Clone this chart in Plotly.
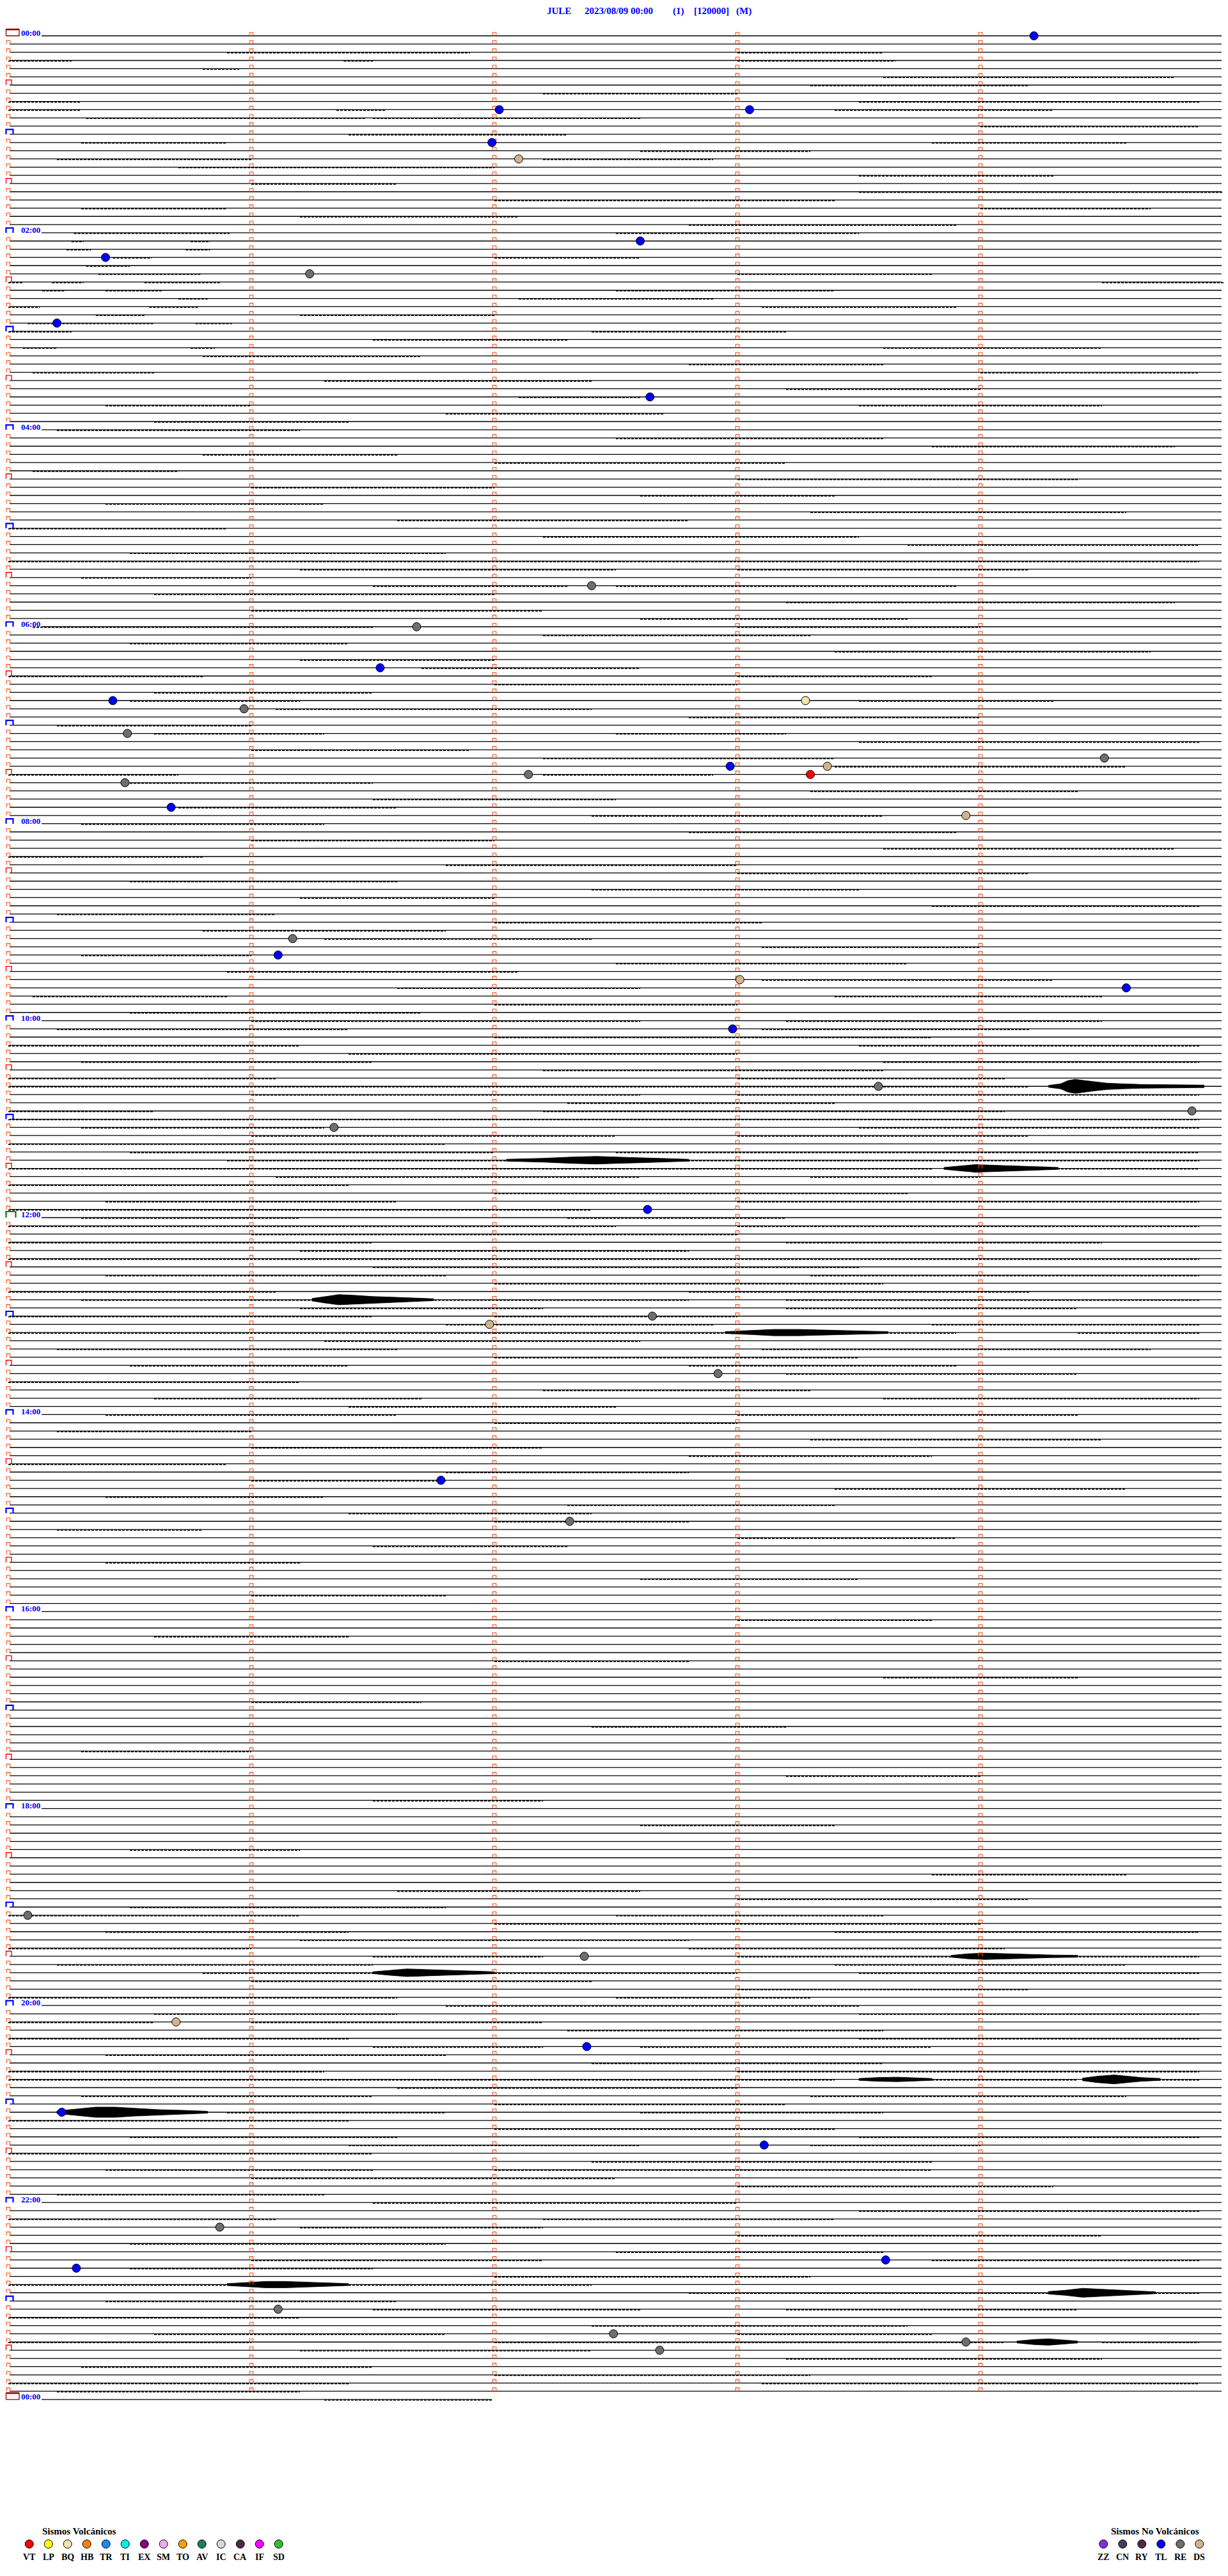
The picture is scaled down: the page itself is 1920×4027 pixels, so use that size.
import plotly.graph_objects as go

# ---------------- data ----------------
title_parts = ["JULE", "2023/08/09 00:00", "(1)", "[120000]", "(M)"]
hour_labels = ["00:00", "02:00", "04:00", "06:00", "08:00", "10:00", "12:00",
               "14:00", "16:00", "18:00", "20:00", "22:00", "00:00"]
n_traces = 288          # 5-minute traces in 24 h
minutes_per_trace = 5

event_trace = [0, 9, 9, 13, 15, 25, 27, 29, 35, 44, 67, 72, 77, 81, 81, 82, 85, 89, 89, 88,
               90, 90, 91, 94, 95, 110, 112, 115, 116, 121, 128, 131, 133, 143, 157, 156,
               163, 176, 181, 229, 234, 242, 245, 253, 257, 267, 271, 272, 277, 280, 282, 281]
event_minute = [4.22, 2.02, 3.05, 1.99, 2.10, 2.60, 0.40, 1.24, 0.20, 2.64, 2.40, 1.68, 1.53,
                0.43, 3.28, 0.97, 0.49, 2.97, 3.37, 4.51, 2.14, 3.30, 0.48, 0.67, 3.94, 1.17,
                1.11, 3.01, 4.60, 2.98, 3.58, 4.87, 1.34, 2.63, 1.98, 2.65, 2.92, 1.78, 2.31,
                0.08, 2.37, 0.69, 2.38, 0.22, 3.11, 0.87, 3.61, 0.28, 1.11, 2.49, 2.68, 3.94]
event_type = ["TL", "TL", "TL", "TL", "DS", "TL", "TL", "RE", "TL", "TL", "RE", "RE", "TL",
              "TL", "BQ", "RE", "RE", "TL", "DS", "RE", "RE", "VT", "RE", "TL", "DS", "RE",
              "TL", "DS", "TL", "TL", "RE", "RE", "RE", "TL", "DS", "RE", "RE", "TL", "RE",
              "RE", "RE", "DS", "TL", "TL", "TL", "RE", "TL", "TL", "RE", "RE", "RE", "RE"]

volc_types = ["VT", "LP", "BQ", "HB", "TR", "TI", "EX", "SM", "TO", "AV", "IC", "CA", "IF", "SD"]
volc_colors = ["#ff0000", "#ffff00", "#f0e4a8", "#ff8010", "#1e88f0", "#00f0f0", "#800080",
               "#eeaaee", "#ffa000", "#207a60", "#d8d8d8", "#4a2a48", "#ff00ff", "#30c030"]
nonvolc_types = ["ZZ", "CN", "RY", "TL", "RE", "DS"]
nonvolc_colors = ["#8030d8", "#4c3a58", "#502848", "#0000ff", "#6e6e6e", "#d2b48c"]

# noisy stretches of each trace: (trace, start minute, end minute)
noise_segments = [
    (2,0.9,1.9),(2,3.0,3.6),(3,0.0,0.26),(3,1.38,1.5),(3,3.0,3.65),(4,0.8,0.95),(5,3.6,4.8),
    (6,3.3,4.2),(7,2.2,3.0),(8,0.0,0.3),(8,3.5,4.9),(9,0.0,0.3),(9,1.35,1.55),(9,3.4,4.3),
    (10,0.32,1.47),(10,1.5,2.6),(11,4.0,4.9),(12,1.4,2.3),(13,0.3,0.9),(13,3.8,4.6),(14,2.6,3.3),
    (15,0.2,1.0),(15,2.2,2.9),(16,0.7,2.0),(17,3.5,4.3),(18,1.0,1.6),(19,3.5,5.0),(20,2.0,3.4),
    (21,0.3,0.9),(21,4.0,4.7),(22,1.2,2.1),(23,2.8,3.9),
    (24,0.27,0.91),(24,2.5,3.5),(25,0.26,0.31),(25,0.75,0.83),(26,0.24,0.34),(26,0.73,0.83),
    (27,0.43,0.59),(27,2.0,2.6),(28,0.32,0.5),(29,0.37,0.79),(29,3.0,3.8),(30,0.0,0.06),
    (30,0.18,0.31),(30,0.56,0.87),(30,4.5,5.0),(31,0.14,0.23),(31,0.4,0.63),(31,2.5,3.4),
    (32,0.7,0.82),(32,2.1,2.9),(33,0.0,0.13),(33,0.58,0.78),(33,3.1,3.9),(34,0.36,0.56),
    (34,1.2,2.0),(35,0.08,0.6),(35,0.77,0.92),(36,0.0,0.26),(36,2.4,3.2),(37,1.5,2.3),
    (38,0.06,0.2),(38,0.75,0.85),(38,3.6,4.5),(39,0.8,1.7),(40,2.8,3.6),(41,0.1,0.6),
    (41,4.0,4.9),(42,1.3,2.4),(43,3.2,4.0),(44,2.1,2.6),(45,0.4,1.0),(45,3.5,4.5),(46,1.8,2.7),
    (47,0.6,1.4),
    (48,0.2,1.2),(49,2.5,3.6),(50,3.8,4.8),(51,0.8,1.6),(52,2.0,3.2),(53,0.1,0.7),(54,3.0,4.4),
    (55,1.0,2.0),(56,2.6,3.4),(57,0.4,1.3),(58,3.3,4.6),(59,1.6,2.8),(60,0.0,0.9),(61,2.2,3.5),
    (62,3.7,4.9),(63,0.5,1.8),(64,0.0,4.9),(65,1.2,2.5),(65,3.0,4.2),(66,0.3,1.0),(67,1.5,2.3),
    (67,2.5,3.9),(68,0.6,2.0),(69,3.2,4.8),(70,1.0,2.2),(71,2.6,3.7),
    (72,0.1,1.5),(72,3.0,4.0),(73,2.2,3.3),(74,0.5,1.4),(75,3.4,4.7),(76,1.2,2.0),(77,1.7,2.6),
    (78,0.0,0.8),(78,3.0,3.8),(79,2.0,3.0),(80,0.6,1.5),(81,0.5,1.2),(81,3.5,4.3),(82,1.1,2.4),
    (83,2.8,4.0),(84,0.2,1.0),(85,0.6,1.3),(85,2.5,3.2),(86,3.5,4.9),(87,1.0,1.9),(88,2.2,3.4),
    (89,3.4,4.6),(90,0.0,0.7),(90,2.2,2.9),(91,0.5,1.5),(92,3.3,4.4),(93,1.5,2.5),(94,0.7,1.6),
    (95,2.4,3.6),
    (96,0.3,1.3),(97,2.8,3.9),(98,1.0,2.0),(99,3.6,4.8),(100,0.0,0.8),(101,1.8,3.0),(102,3.0,4.2),
    (103,0.5,1.6),(104,2.4,3.5),(105,1.2,2.0),(106,3.8,4.9),(107,0.2,1.1),(108,2.0,3.1),
    (109,0.8,1.8),(110,1.3,2.4),(111,3.1,4.0),(112,0.3,1.0),(113,2.5,3.7),(114,0.9,2.1),
    (115,3.1,4.3),(116,1.6,2.6),(117,0.1,0.9),(117,3.4,4.5),(118,2.0,3.0),(119,0.5,1.7),
    (120,1.0,2.6),(120,3.2,4.5),(121,0.2,1.4),(121,3.1,4.2),(122,2.0,3.8),(123,0.0,1.2),
    (123,3.5,4.9),(124,1.4,3.0),(125,0.3,1.5),(125,3.6,4.9),(126,2.2,3.6),(127,0.0,1.1),
    (127,3.0,4.1),(128,0.0,4.2),(129,1.0,2.6),(129,3.0,4.9),(130,2.3,3.4),(131,0.0,0.6),
    (131,2.2,4.1),(132,0.0,4.9),(133,0.3,1.3),(133,3.5,4.9),(134,1.0,2.5),(134,3.0,4.2),
    (135,0.0,1.8),(136,0.5,2.0),(136,2.5,4.9),(137,0.9,4.9),(138,0.0,3.8),(138,4.3,4.9),
    (139,1.1,2.6),(139,3.3,4.0),(140,0.0,1.4),(141,2.0,3.7),(142,0.4,1.6),(142,3.0,4.9),
    (143,0.0,2.4),
    (144,0.3,1.2),(144,2.3,3.2),(145,0.0,2.5),(145,3.0,4.9),(146,1.0,3.0),(147,0.0,1.5),
    (147,3.2,4.5),(148,1.2,2.8),(149,0.0,4.9),(150,1.5,3.5),(151,0.4,1.8),(151,3.3,4.9),
    (152,2.0,3.6),(153,0.0,1.1),(153,2.8,4.2),(154,0.3,2.8),(154,3.2,4.9),(155,1.2,2.2),
    (155,3.2,4.4),(156,0.0,1.5),(156,2.0,3.0),(157,1.8,2.9),(157,3.8,4.9),(158,0.0,2.0),
    (158,2.0,3.9),(158,4.4,4.9),(159,1.3,2.6),(160,0.2,1.6),(160,3.1,4.7),(161,2.0,3.5),
    (162,0.5,1.4),(162,2.8,3.9),(163,3.2,4.4),(164,0.0,1.2),(165,2.2,3.3),(166,0.6,1.7),
    (166,3.6,4.9),(167,1.4,2.5),
    (168,0.4,1.6),(168,3.0,4.4),(169,2.0,3.0),(170,0.2,1.0),(171,3.3,4.5),(172,1.0,2.2),
    (173,2.8,3.8),(174,0.0,0.9),(175,1.8,2.8),(176,1.0,1.8),(177,3.4,4.6),(178,0.4,1.3),
    (179,2.3,3.4),(180,1.4,2.4),(181,2.0,2.8),(182,0.2,0.8),(183,3.0,3.9),(184,1.5,2.3),
    (186,0.4,1.2),(188,2.6,3.5),(190,1.0,1.8),
    (193,3.0,3.8),(195,0.6,1.4),(198,2.0,2.8),(200,3.6,4.4),(203,1.0,1.7),(206,2.4,3.2),
    (209,0.3,1.0),(212,3.2,4.0),(215,1.5,2.2),(218,2.6,3.4),(221,0.5,1.2),(224,3.8,4.6),
    (226,1.6,2.6),(227,3.0,4.2),
    (228,0.5,1.8),(229,0.0,1.2),(229,2.5,3.6),(230,2.0,4.0),(231,0.4,1.4),(231,3.4,4.9),
    (232,1.2,2.8),(233,0.0,1.0),(233,2.8,4.1),(234,1.5,2.2),(234,3.0,4.9),(235,0.2,1.5),
    (235,3.4,4.6),(236,0.8,3.0),(236,3.5,4.9),(237,1.0,2.4),(238,3.0,4.2),(239,0.0,1.6),
    (239,2.5,3.3),(240,1.8,3.5),(241,0.6,1.6),(241,3.5,4.9),(242,0.0,0.6),(242,1.0,2.2),
    (243,2.3,3.6),(244,0.0,1.4),(244,3.5,4.9),(245,1.5,2.2),(245,2.6,3.8),(246,0.4,1.8),
    (247,2.4,3.6),(248,0.0,1.3),(248,3.0,4.9),(249,0.0,3.4),(249,3.8,4.4),(249,4.7,4.9),
    (250,1.6,3.0),(251,0.3,1.5),(251,3.3,4.6),(252,2.0,3.2),(253,0.9,1.8),(253,2.6,3.6),
    (254,0.0,1.4),(255,2.0,3.4),(256,0.5,1.6),(256,3.5,4.9),(257,1.4,2.6),(257,3.3,4.0),
    (258,0.0,1.5),(259,2.4,3.8),(260,0.4,1.5),(260,2.0,3.8),(261,1.0,2.5),(262,3.0,4.3),
    (263,0.2,1.3),(264,1.5,3.0),(265,3.5,4.9),(266,0.0,1.1),(266,2.2,3.4),(267,1.2,2.2),
    (268,3.0,4.5),(269,0.5,1.8),(270,2.5,3.6),(271,1.0,2.2),(271,3.8,4.9),(272,0.5,1.5),
    (273,2.0,3.3),(274,0.0,0.9),(274,1.4,2.4),(275,2.8,4.3),(275,4.7,4.9),(276,0.4,1.6),
    (277,1.5,2.6),(277,3.2,4.4),(278,0.0,1.2),(279,2.4,3.7),(280,0.6,1.8),(280,3.0,3.8),
    (281,0.0,1.0),(281,2.0,4.1),(281,4.5,4.9),(282,1.2,2.4),(283,3.2,4.5),(284,0.3,1.5),
    (285,2.0,3.3),(286,0.0,1.4),(286,3.1,4.9),(287,0.2,1.2),(288,1.3,1.99),
]

# larger seismic bursts: trace, envelope minutes, envelope half-amplitude (px)
burst_trace = [128, 137, 138, 154, 158, 234, 236, 249, 249, 253, 274, 275, 281]
burst_minutes = [
    [4.28, 4.33, 4.36, 4.39, 4.43, 4.47, 4.52, 4.58, 4.66, 4.78, 4.92],
    [2.05, 2.20, 2.32, 2.42, 2.50, 2.60, 2.70, 2.80],
    [3.85, 3.92, 3.98, 4.05, 4.15, 4.25, 4.32],
    [1.25, 1.30, 1.36, 1.42, 1.50, 1.58, 1.66, 1.75],
    [2.95, 3.05, 3.15, 3.25, 3.35, 3.45, 3.55, 3.62],
    [3.88, 3.95, 4.02, 4.10, 4.20, 4.30, 4.40],
    [1.50, 1.57, 1.64, 1.72, 1.82, 1.92, 2.00],
    [3.50, 3.58, 3.66, 3.74, 3.80],
    [4.42, 4.48, 4.55, 4.60, 4.66, 4.74],
    [0.20, 0.28, 0.36, 0.44, 0.52, 0.62, 0.72, 0.82],
    [0.90, 0.98, 1.06, 1.14, 1.22, 1.32, 1.40],
    [4.28, 4.35, 4.42, 4.48, 4.56, 4.64, 4.72],
    [4.15, 4.22, 4.28, 4.34, 4.40],
]
burst_amp_px = [
    [1.5, 4, 9, 11, 9, 7, 5, 4, 3, 2.5, 2],
    [1.5, 3, 5, 6, 5, 4, 3, 1.5],
    [1.5, 4, 6, 5, 4, 2.5, 1.5],
    [2, 5, 8, 7, 5, 4, 3, 1.5],
    [1.5, 3, 5, 5, 4, 3, 2, 1.5],
    [1.5, 4, 5, 4, 3, 2, 1.5],
    [1.5, 4, 6, 5, 3.5, 2.5, 1.5],
    [1.5, 3, 3.5, 2.5, 1.5],
    [2, 5, 7, 5, 3, 1.5],
    [2, 5, 8, 8, 6, 4, 3, 1.5],
    [1.5, 3, 5, 5, 4, 2.5, 1.5],
    [2, 4, 7, 6, 4, 3, 1.5],
    [1.5, 4, 5, 3, 1.5],
]

# ---------------- layout geometry (pixels) ----------------
W, H = 1920, 4027
X0, PXM = 13.0, 380.0      # pixel of minute 0, pixels per minute
Y0, ROW = 56.0, 12.83      # pixel of trace 0, pixels per trace
FONT = "Liberation Serif"


def mx(px):
    return (px - X0) / PXM


def ty(py):
    return (py - Y0) / ROW


def dx(px):
    return px / PXM


def dy(px):
    return px / ROW


fig = go.Figure()

# ---- baselines ----
bx, by = [], []
for i in range(n_traces + 1):
    start = mx(65) if i % 24 == 0 else mx(15)
    end = mx(1910) if i < n_traces else mx(769)
    bx += [start, end, None]
    by += [i, i, None]
fig.add_trace(go.Scatter(x=bx, y=by, mode="lines", line=dict(color="black", width=1.3),
                         hoverinfo="skip", showlegend=False))

# ---- noise ----
nx, ny = [], []
for t, a, b in noise_segments:
    nx += [a, b, None]
    ny += [t + dy(0.9), t + dy(0.9), None]
fig.add_trace(go.Scatter(x=nx, y=ny, mode="lines",
                         line=dict(color="black", width=1.8, dash="4px,2px"),
                         hoverinfo="skip", showlegend=False))

# ---- bursts (filled envelopes) ----
for t, ms, amps in zip(burst_trace, burst_minutes, burst_amp_px):
    px_ = list(ms) + list(ms[::-1]) + [ms[0]]
    py_ = [t - dy(a) for a in amps] + [t + dy(a) for a in amps[::-1]] + [t - dy(amps[0])]
    fig.add_trace(go.Scatter(x=px_, y=py_, mode="lines", fill="toself",
                             fillcolor="black",
                             line=dict(color="black", width=0.8), hoverinfo="skip",
                             showlegend=False))


def bracket(xs, ys, i, m, wpx, hpx, xoff_px=0.0):
    x0 = m + dx(xoff_px)
    x1 = x0 + dx(wpx)
    xs += [x0, x0, x1, x1, None]
    ys += [i, i - dy(hpx), i - dy(hpx), i, None]


# ---- minute ticks (small orange brackets) ----
ox, oy = [], []
for i in range(n_traces):
    for m in range(minutes_per_trace):
        if m == 0 and i % 6 == 0:
            continue
        bracket(ox, oy, i, m, 5.5, 5.3, -2.8)
fig.add_trace(go.Scatter(x=ox, y=oy, mode="lines", line=dict(color="#ff4a10", width=1.1),
                         hoverinfo="skip", showlegend=False))

# ---- hour (blue) and half-hour (red) brackets ----
hx, hy, rx, ry, gx, gy = [], [], [], [], [], []
for i in range(0, n_traces + 1, 6):
    if i == 0 or i == n_traces:
        continue
    if i == 144:
        bracket(gx, gy, i, 0, 15, 9.5, -3.5)
    elif i % 12 == 0:
        bracket(hx, hy, i, 0, 11, 7.5, -3.5)
    else:
        bracket(rx, ry, i, 0, 8.5, 8, -3.5)
fig.add_trace(go.Scatter(x=hx, y=hy, mode="lines", line=dict(color="#0000ff", width=2.2),
                         hoverinfo="skip", showlegend=False))
fig.add_trace(go.Scatter(x=rx, y=ry, mode="lines", line=dict(color="#ff0000", width=1.4),
                         hoverinfo="skip", showlegend=False))
fig.add_trace(go.Scatter(x=gx, y=gy, mode="lines", line=dict(color="#008000", width=2.2),
                         hoverinfo="skip", showlegend=False))

# ---- day start / end boxes ----
for i in (0, n_traces):
    x0, x1 = mx(9.5), mx(30)
    fig.add_trace(go.Scatter(x=[x0, x0, x1, x1, x0], y=[i, i - dy(10), i - dy(10), i, i],
                             mode="lines", line=dict(color="#8b0000", width=1.3),
                             hoverinfo="skip", showlegend=False))
    fig.add_trace(go.Scatter(x=[x0, x1], y=[i - dy(10), i - dy(10)], mode="lines",
                             line=dict(color="#8b0000", width=2.6),
                             hoverinfo="skip", showlegend=False))

# ---- hour labels ----
for k, lab in enumerate(hour_labels):
    fig.add_annotation(x=mx(31), y=k * 24 - dy(4.6), text="<b>%s</b>" % lab, showarrow=False,
                       xanchor="left", yanchor="middle",
                       font=dict(family=FONT, size=13, color="#0000ff"))

# ---- events ----
type_color = dict(zip(volc_types + nonvolc_types, volc_colors + nonvolc_colors))
for typ in sorted(set(event_type)):
    xs = [m for m, t in zip(event_minute, event_type) if t == typ]
    ys = [tr for tr, t in zip(event_trace, event_type) if t == typ]
    fig.add_trace(go.Scatter(x=xs, y=ys, mode="markers",
                             marker=dict(size=13, color=type_color[typ],
                                         line=dict(color="black", width=1)),
                             hoverinfo="skip", showlegend=False))

# ---- title ----
title_left_px = [853, 912, 1050, 1083, 1149]
for txt, xl in zip(title_parts, title_left_px):
    fig.add_annotation(x=mx(xl), y=ty(17), text="<b>%s</b>" % txt, showarrow=False,
                       xanchor="left", yanchor="middle",
                       font=dict(family=FONT, size=15, color="#0000ff"))

# ---- bottom legend ----
leg_y, lab_y, head_y = ty(3977), ty(3997), ty(3957)
vx = [mx(45.7 + 30 * k) for k in range(len(volc_types))]
fig.add_trace(go.Scatter(x=vx, y=[leg_y] * len(vx), mode="markers",
                         marker=dict(size=13, color=volc_colors,
                                     line=dict(color="black", width=1)),
                         hoverinfo="skip", showlegend=False))
for x, lab in zip(vx, volc_types):
    fig.add_annotation(x=x, y=lab_y, text="<b>%s</b>" % lab, showarrow=False,
                       xanchor="center", yanchor="middle",
                       font=dict(family=FONT, size=14, color="black"))
fig.add_annotation(x=mx(124), y=head_y, text="<b>Sismos Volcánicos</b>", showarrow=False,
                   xanchor="center", yanchor="middle",
                   font=dict(family=FONT, size=15, color="black"))

nvx = [mx(1725.3 + 30 * k) for k in range(len(nonvolc_types))]
fig.add_trace(go.Scatter(x=nvx, y=[leg_y] * len(nvx), mode="markers",
                         marker=dict(size=13, color=nonvolc_colors,
                                     line=dict(color="black", width=1)),
                         hoverinfo="skip", showlegend=False))
for x, lab in zip(nvx, nonvolc_types):
    fig.add_annotation(x=x, y=lab_y, text="<b>%s</b>" % lab, showarrow=False,
                       xanchor="center", yanchor="middle",
                       font=dict(family=FONT, size=14, color="black"))
fig.add_annotation(x=mx(1806), y=head_y, text="<b>Sismos No Volcánicos</b>", showarrow=False,
                   xanchor="center", yanchor="middle",
                   font=dict(family=FONT, size=15, color="black"))

fig.update_layout(
    width=W, height=H, margin=dict(l=0, r=0, t=0, b=0, pad=0),
    paper_bgcolor="white", plot_bgcolor="white", showlegend=False,
    xaxis=dict(range=[mx(0), mx(W)], visible=False, fixedrange=True),
    yaxis=dict(range=[ty(H), ty(0)], visible=False, fixedrange=True),
)

fig.write_html("out.html", config={"displayModeBar": False},
               post_script="document.body.style.margin='0';document.body.style.overflow='hidden';")
